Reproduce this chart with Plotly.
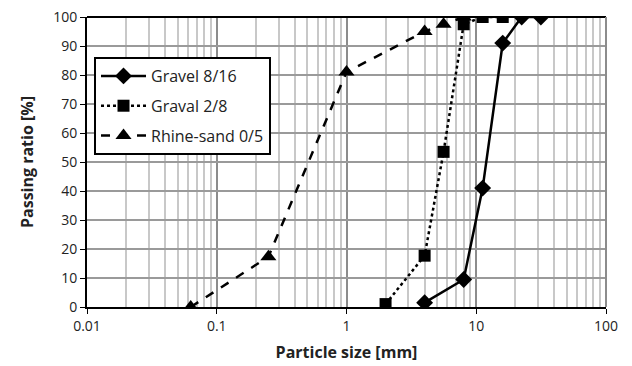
import plotly.graph_objects as go

gravel_816_x = [4, 8, 11.2, 16, 22.4, 31.5]
gravel_816_y = [1.5, 9.5, 41, 91, 100, 100]
graval_28_x = [2, 4, 5.6, 8, 11.2, 16]
graval_28_y = [1, 17.7, 53.5, 97.5, 100, 100]
sand_05_x = [0.063, 0.25, 1, 4, 5.6, 8]
sand_05_y = [0, 17.3, 81, 95, 97.5, 100]
x_tickvals = [0.01, 0.1, 1, 10, 100]
x_ticktext = ["0.01", "0.1", "1", "10", "100"]
minor_vals = [m * d for d in [0.01, 0.1, 1, 10] for m in range(2, 10)]

FONT = "'Open Sans', sans-serif"

fig = go.Figure()
fig.add_trace(go.Scatter(x=gravel_816_x, y=gravel_816_y, name="Gravel 8/16", mode="lines+markers",
                         legendgroup="a",
                         line=dict(color="black", width=2.5, dash="solid"),
                         marker=dict(symbol="diamond", size=13, color="black")))
fig.add_trace(go.Scatter(x=graval_28_x, y=graval_28_y, name="Graval 2/8", mode="lines+markers",
                         legendgroup="b",
                         line=dict(color="black", width=2.5, dash="dot"),
                         marker=dict(symbol="square", size=12, color="black")))
fig.add_trace(go.Scatter(x=sand_05_x, y=sand_05_y, name="Rhine-sand 0/5", mode="lines+markers",
                         legendgroup="c",
                         line=dict(color="black", width=2.5, dash="dash"),
                         marker=dict(symbol="triangle-up", size=14, color="black")))

fig.update_layout(
    width=632, height=366,
    margin=dict(l=87, r=26, t=17, b=59, autoexpand=False),
    paper_bgcolor="white", plot_bgcolor="white",
    font=dict(family=FONT, size=14, color="#222"),
    legend=dict(x=0.0135, y=0.862, xanchor="left", yanchor="top",
                bordercolor="black", borderwidth=2, bgcolor="white",
                font=dict(size=16, color="#222"), tracegroupgap=6, itemwidth=45),
    showlegend=True,
)
fig.update_xaxes(type="log", range=[-2, 2], tickvals=x_tickvals, ticktext=x_ticktext,
                 automargin=False,
                 showgrid=True, gridcolor="#8c8c8c", gridwidth=2,
                 minor=dict(tickvals=minor_vals, showgrid=True, gridcolor="#c8c8c8", gridwidth=1.5, ticks=""),
                 showline=True, linecolor="black", linewidth=2, mirror=False,
                 ticks="outside", ticklen=5, tickcolor="black",
                 title=dict(text="<b>Particle size [mm]</b>", font=dict(size=16), standoff=13),
                 zeroline=False)
fig.update_yaxes(range=[0, 100], dtick=10,
                 automargin=False,
                 showgrid=True, gridcolor="#9a9a9a", gridwidth=2,
                 showline=True, linecolor="black", linewidth=2,
                 ticks="outside", ticklen=5, tickcolor="black",
                 title=dict(text="<b>Passing ratio [%]</b>", font=dict(size=16), standoff=16),
                 zeroline=False)
fig.add_shape(type="line", xref="paper", yref="paper", x0=0, x1=1, y0=1, y1=1,
              line=dict(color="black", width=2))
fig.add_shape(type="line", xref="paper", yref="paper", x0=1, x1=1, y0=0, y1=1,
              line=dict(color="#8c8c8c", width=2))

fig.write_html("out.html", config={"displayModeBar": False},
               post_script="document.body.style.margin='0';document.body.style.overflow='hidden';")
